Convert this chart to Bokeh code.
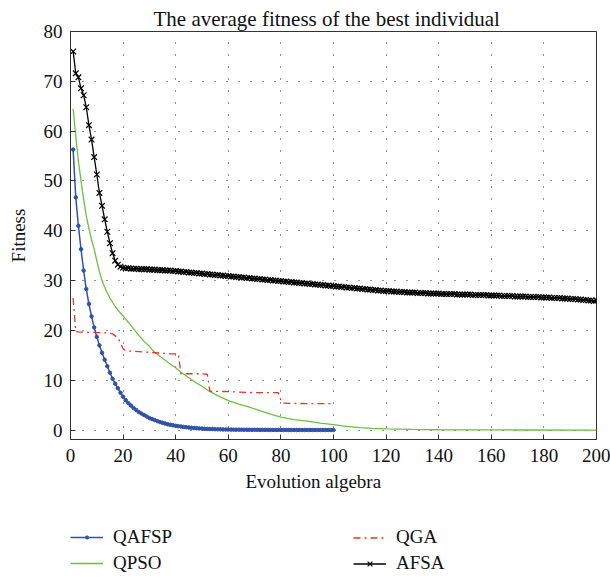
from bokeh.plotting import figure
from bokeh.models import Range1d, Legend, LegendItem, FixedTicker, Title
from bokeh.layouts import column
from bokeh.embed import file_html
from bokeh.resources import INLINE

# ---------------- data ----------------
qafsp_x = list(range(1, 101))
qafsp_y = [56.3, 46.7, 41.0, 36.3, 32.0, 28.3, 25.3, 22.8, 20.6, 18.7,
           17.0, 15.5, 14.1, 12.8, 11.5, 10.3, 9.3, 8.4, 7.5, 6.7,
           6.0, 5.4, 4.9, 4.4, 4.0, 3.6, 3.3, 3.0, 2.7, 2.4,
           2.2, 2.0, 1.8, 1.6, 1.45, 1.3, 1.15, 1.05, 0.95, 0.85,
           0.77, 0.70, 0.62, 0.56, 0.50, 0.45, 0.40, 0.36, 0.32, 0.29,
           0.26, 0.23, 0.21, 0.19, 0.17, 0.15, 0.14, 0.12, 0.11, 0.10,
           0.09, 0.08, 0.07, 0.07, 0.06, 0.06, 0.05, 0.05, 0.04, 0.04,
           0.04, 0.03, 0.03, 0.03, 0.03, 0.02, 0.02, 0.02, 0.02, 0.02,
           0.02, 0.02, 0.01, 0.01, 0.01, 0.01, 0.01, 0.01, 0.01, 0.01,
           0.01, 0.01, 0.01, 0.01, 0.01, 0.01, 0.01, 0.01, 0.01, 0.01]

qpso_x = [1, 2, 3, 4, 5, 6, 7, 8, 9, 10, 11, 12, 13, 14, 15, 16, 17, 18, 19, 20,
          22, 24, 26, 28, 30, 32, 34, 36, 38, 40, 42, 45, 48, 50, 53, 56, 60,
          64, 68, 72, 76, 80, 85, 90, 95, 100, 105, 110, 115, 120, 130, 140,
          150, 170, 200]
qpso_y = [64.5, 59.0, 54.0, 50.0, 46.3, 43.0, 40.5, 38.2, 36.3, 34.0, 31.8, 30.0,
          28.7, 27.5, 26.5, 25.6, 24.8, 24.1, 23.5, 22.9,
          21.6, 20.3, 19.0, 17.8, 16.8, 15.6, 14.8, 14.0, 13.2, 12.5, 11.6, 10.5,
          9.4, 8.8, 7.7, 6.9, 5.9, 5.2, 4.6, 3.9, 3.2, 2.6, 2.1, 1.8, 1.4, 1.1,
          0.75, 0.5, 0.35, 0.25, 0.12, 0.06, 0.03, 0.01, 0.0]

qga_x = [1, 2, 3, 8, 14, 16, 18, 19, 20, 21, 30, 38, 41, 42, 50, 52, 53, 60, 70,
         79, 80, 81, 90, 100]
qga_y = [26.5, 19.8, 19.7, 19.6, 19.5, 19.3, 18.5, 17.5, 16.3, 15.9, 15.6, 15.3,
         15.3, 11.3, 11.3, 11.2, 7.8, 7.7, 7.5, 7.5, 6.0, 5.4, 5.3, 5.3]

afsa_x = list(range(1, 201))
afsa_y = [76.0, 71.6, 70.8, 68.6, 67.2, 64.8, 61.2, 58.3, 54.8, 51.3,
          47.6, 45.0, 42.3, 39.8, 37.5, 35.5, 34.0, 33.2, 32.8, 32.6,
          32.5, 32.5, 32.4, 32.4, 32.4, 32.3, 32.3, 32.3, 32.3, 32.2,
          32.2, 32.2, 32.1, 32.1, 32.1, 32.0, 32.0, 32.0, 31.9, 31.9,
          31.8, 31.8, 31.7, 31.7, 31.6, 31.6, 31.5, 31.5, 31.4, 31.4,
          31.3, 31.3, 31.2, 31.2, 31.1, 31.1, 31.0, 31.0, 30.9, 30.9,
          30.8, 30.8, 30.7, 30.7, 30.6, 30.6, 30.5, 30.5, 30.4, 30.4,
          30.3, 30.3, 30.2, 30.2, 30.1, 30.1, 30.0, 30.0, 29.9, 29.9,
          29.8, 29.8, 29.7, 29.7, 29.6, 29.6, 29.5, 29.5, 29.4, 29.4,
          29.3, 29.3, 29.2, 29.2, 29.1, 29.1, 29.0, 29.0, 28.9, 28.9,
          28.8, 28.8, 28.7, 28.7, 28.6, 28.6, 28.5, 28.5, 28.4, 28.4,
          28.3, 28.3, 28.2, 28.2, 28.1, 28.1, 28.0, 28.0, 27.9, 27.9,
          27.9, 27.8, 27.8, 27.8, 27.7, 27.7, 27.7, 27.6, 27.6, 27.6,
          27.6, 27.5, 27.5, 27.5, 27.5, 27.4, 27.4, 27.4, 27.4, 27.4,
          27.3, 27.3, 27.3, 27.3, 27.3, 27.3, 27.2, 27.2, 27.2, 27.2,
          27.2, 27.2, 27.1, 27.1, 27.1, 27.1, 27.1, 27.1, 27.0, 27.0,
          27.0, 27.0, 27.0, 26.9, 26.9, 26.9, 26.9, 26.9, 26.8, 26.8,
          26.8, 26.8, 26.8, 26.7, 26.7, 26.7, 26.7, 26.7, 26.6, 26.6,
          26.6, 26.6, 26.5, 26.5, 26.5, 26.5, 26.4, 26.4, 26.4, 26.3,
          26.3, 26.3, 26.2, 26.2, 26.1, 26.1, 26.0, 26.0, 25.9, 26.0]

x_ticks = [0, 20, 40, 60, 80, 100, 120, 140, 160, 180, 200]
y_ticks = [0, 10, 20, 30, 40, 50, 60, 70, 80]

title_text = "The average fitness of the best individual"
x_label = "Evolution algebra"
y_label = "Fitness"
names = ["QAFSP", "QPSO", "QGA", "AFSA"]

# ---------------- style ----------------
FONT = "Liberation Serif"
FS = "19px"
BLUE = "#2f52a8"
GREEN = "#6cc040"
RED = "#e8322a"
BLACK = "#000000"

STY = {
    "qafsp_line": dict(line_color=BLUE, line_width=1.5),
    "qafsp_mark": dict(marker="circle", size=3.5, fill_color=BLUE, line_color=BLUE),
    "qpso": dict(line_color=GREEN, line_width=1.3),
    "qga": dict(line_color=RED, line_width=1.3, line_dash="7 4 2 4"),
    "afsa_line": dict(line_color=BLACK, line_width=1.3),
    "afsa_mark": dict(marker="x", size=8, line_color=BLACK, line_width=1.2),
}

p = figure(width=610, height=505, output_backend="svg", toolbar_location=None,
           x_range=Range1d(0, 200), y_range=Range1d(-1.9, 80),
           min_border_left=70, min_border_right=14, min_border_top=31,
           min_border_bottom=66)
p.background_fill_color = "white"
p.border_fill_color = "white"
p.outline_line_color = "#333333"
p.outline_line_width = 1

p.title.text = title_text
p.title.text_font = FONT
p.title.text_font_size = "21px"
p.title.text_font_style = "normal"
p.title.align = "left"
p.title.offset = 83
p.title.text_color = "#111111"
p.title.standoff = 2

for ax in (p.xaxis[0], p.yaxis[0]):
    ax.major_tick_in = 5
    ax.major_tick_out = 0
    ax.minor_tick_line_color = None
    ax.axis_line_color = "#333333"
    ax.major_tick_line_color = "#333333"
    ax.major_label_text_font = FONT
    ax.major_label_text_font_size = FS
    ax.major_label_text_color = "#111111"
    ax.axis_label_text_font = FONT
    ax.axis_label_text_font_size = FS
    ax.axis_label_text_font_style = "normal"
    ax.axis_label_text_color = "#111111"

p.xaxis[0].ticker = FixedTicker(ticks=x_ticks)
p.yaxis[0].ticker = FixedTicker(ticks=y_ticks)
p.yaxis[0].axis_label = y_label
p.xaxis[0].major_label_standoff = 9
p.yaxis[0].major_label_standoff = 8
p.yaxis[0].axis_label_standoff = 12

# x-axis title, placed under the tick labels (left-offset like the original)
xtitle = Title(text=x_label, align="left", offset=175, text_font=FONT,
               text_font_size=FS, text_font_style="normal", text_color="#111111",
               standoff=8)
p.add_layout(xtitle, "below")

p.xgrid.ticker = FixedTicker(ticks=x_ticks)
p.ygrid.ticker = FixedTicker(ticks=y_ticks)
for g in (p.xgrid[0], p.ygrid[0]):
    g.grid_line_color = "#222222"
    g.grid_line_dash = "1 11"
    g.grid_line_width = 1

# ---------------- series ----------------
p.line(qafsp_x, qafsp_y, **STY["qafsp_line"])
p.scatter(qafsp_x, qafsp_y, **STY["qafsp_mark"])
p.line(qpso_x, qpso_y, **STY["qpso"])
p.line(qga_x, qga_y, **STY["qga"])
p.line(afsa_x, afsa_y, **STY["afsa_line"])
p.scatter(afsa_x, afsa_y, **STY["afsa_mark"])

# ---------------- legend strip (separate figure under the plot) ----------------
lg = figure(width=610, height=73, output_backend="svg", toolbar_location=None,
            x_axis_type=None, y_axis_type=None, min_border=0,
            x_range=Range1d(0, 1), y_range=Range1d(0, 1))
lg.outline_line_color = None
lg.xgrid.visible = False
lg.ygrid.visible = False
# hidden copies of the series: they only supply the legend glyphs
l1 = lg.line(qafsp_x, qafsp_y, visible=False, **STY["qafsp_line"])
m1 = lg.scatter(qafsp_x, qafsp_y, visible=False, **STY["qafsp_mark"])
l2 = lg.line(qpso_x, qpso_y, visible=False, **STY["qpso"])
l3 = lg.line(qga_x, qga_y, visible=False, **STY["qga"])
l4 = lg.line(afsa_x, afsa_y, visible=False, **STY["afsa_line"])
m4 = lg.scatter(afsa_x, afsa_y, visible=False, **STY["afsa_mark"])

common = dict(orientation="vertical", glyph_width=33, label_standoff=10,
              label_text_font=FONT, label_text_font_size=FS, label_text_color="#111111",
              label_height=22, spacing=4, padding=0, margin=0, border_line_color=None,
              background_fill_alpha=0, inactive_fill_alpha=0)
leg1 = Legend(items=[LegendItem(label=names[0], renderers=[l1, m1]),
                     LegendItem(label=names[1], renderers=[l2])],
              location=(0, 4), glyph_height=8, **common)
leg2 = Legend(items=[LegendItem(label=names[2], renderers=[l3]),
                     LegendItem(label=names[3], renderers=[l4, m4])],
              location=(283, 4), glyph_height=17, **common)
lg.add_layout(leg1, "center")
lg.add_layout(leg2, "center")

layout = column(p, lg, spacing=0)
open("out.html", "w").write(file_html(layout, INLINE))
